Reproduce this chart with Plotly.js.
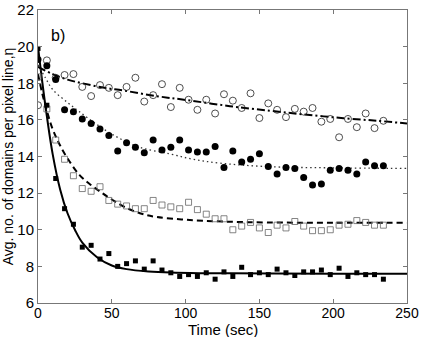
<!DOCTYPE html>
<html>
<head>
<meta charset="utf-8">
<script src="https://cdn.plot.ly/plotly-3.0.1.min.js"></script>
<style>
  html, body { margin: 0; padding: 0; background: #fff; }
  #chart { width: 422px; height: 337px; }
</style>
</head>
<body>
<div id="chart"></div>
<script>
// sample times (sec), one point every 6 s
let times = [0, 6, 12, 18, 24, 30, 36, 42, 48, 54, 60, 66, 72, 78, 84, 90, 96, 102, 108, 114,
    120, 126, 132, 138, 144, 150, 156, 162, 168, 174, 180, 186, 192, 198, 204, 210, 216, 222, 228, 234];

// measured points
let filledSquares = [19.9, 16.8, 12.8, 11.15, 10.3, 9.05, 9.15, 8.4, 8.7, 8.0, 8.15, 8.3, 7.85, 8.3, 7.8, 7.65, 7.45, 7.55, 7.45, 7.65,
    7.3, 7.7, 7.45, 7.95, 7.55, 7.65, 7.55, 7.85, 7.65, 7.5, 7.7, 7.7, 7.8, 7.55, 7.9, 7.45, 7.65, 7.55, 7.55, 7.3];
let openSquares = [18.35, 16.6, 14.9, 13.85, 12.95, 12.25, 12.1, 12.35, 11.6, 11.4, 11.3, 11.15, 11.15, 11.6, 11.35, 11.25, 11.15, 11.5, 11.1, 10.85,
    10.6, 10.6, 10.0, 10.2, 10.4, 10.1, 9.85, 10.25, 10.1, 10.45, 10.2, 9.95, 9.95, 10.0, 10.25, 10.3, 10.5, 10.4, 10.25, 10.25];
let filledCircles = [19.3, 18.95, 18.2, 16.55, 16.45, 16.05, 15.8, 15.5, 15.15, 14.3, 14.75, 14.5, 14.2, 14.9, 14.35, 14.5, 14.9, 14.35, 14.25, 14.25,
    14.55, 13.4, 14.3, 13.7, 13.85, 14.15, 13.45, 13.05, 13.4, 13.35, 12.85, 12.45, 12.5, 13.25, 13.35, 13.25, 13.05, 13.7, 13.5, 13.5];
let openCircles = [16.8, 19.25, 18.3, 18.45, 18.5, 17.8, 17.3, 17.9, 17.75, 17.35, 17.8, 18.3, 17.0, 17.35, 17.95, 16.7, 17.75, 17.1, 16.55, 17.1,
    16.35, 17.4, 17.05, 16.65, 17.45, 16.1, 16.9, 16.55, 16.15, 16.6, 16.45, 16.65, 15.9, 16.05, 15.05, 16.05, 15.6, 16.35, 15.55, 15.95];

// fitted curves
let solidT = [0, 3, 6, 10, 15, 20, 25, 30, 40, 50, 60, 75, 90, 110, 130, 160, 200, 250];
let solidV = [20.0, 18.0, 16.2, 14.1, 12.2, 10.9, 10.0, 9.3, 8.5, 8.05, 7.85, 7.72, 7.66, 7.63, 7.62, 7.61, 7.6, 7.6];
let dashT = [0, 3, 6, 9, 12, 15, 20, 28, 35, 42, 50, 58, 69, 80, 100, 125, 155, 200, 250];
let dashV = [18.5, 17.4, 16.5, 15.7, 15.1, 14.6, 13.9, 13.0, 12.5, 12.09, 11.65, 11.27, 10.9, 10.7, 10.55, 10.45, 10.4, 10.38, 10.38];
let dotT = [0, 5, 10, 20, 28, 42, 55, 69, 89, 105, 123, 155, 200, 250];
let dotV = [19.0, 18.3, 17.65, 16.95, 16.45, 15.63, 15.0, 14.5, 14.15, 13.85, 13.64, 13.45, 13.38, 13.35];
let dashDotT = [0, 10, 20, 30, 45, 58, 80, 100, 130, 157, 180, 207, 230, 250];
let dashDotV = [18.9, 18.5, 18.2, 18.0, 17.75, 17.6, 17.3, 17.09, 16.75, 16.5, 16.3, 16.09, 15.95, 15.8];

let xTicks = [0, 50, 100, 150, 200, 250];
let yTicks = [6, 8, 10, 12, 14, 16, 18, 20, 22];

let data = [
    { x: solidT, y: solidV, mode: 'lines', line: { color: '#000', width: 2, shape: 'spline' } },
    { x: dashT, y: dashV, mode: 'lines', line: { color: '#000', width: 2, dash: '6px,4px', shape: 'spline' } },
    { x: dotT, y: dotV, mode: 'lines', line: { color: '#333', width: 1.3, dash: '1.5px,3px', shape: 'spline' } },
    { x: dashDotT, y: dashDotV, mode: 'lines', line: { color: '#000', width: 2, dash: '8px,3px,2px,3px', shape: 'spline' } },
    {
        x: times, y: openCircles, mode: 'markers', type: 'scatter',
        marker: { symbol: 'circle-open', size: 7, color: '#222', line: { width: 0.8 } }
    },
    {
        x: times, y: openSquares, mode: 'markers', type: 'scatter',
        marker: { symbol: 'square-open', size: 6, color: '#666', line: { width: 0.8 } }
    },
    {
        x: times, y: filledCircles, mode: 'markers', type: 'scatter',
        marker: { symbol: 'circle', size: 7, color: '#000' }
    },
    {
        x: times, y: filledSquares, mode: 'markers', type: 'scatter',
        marker: { symbol: 'square', size: 5, color: '#000' }
    }
];

let fam = 'Liberation Sans, Arial, sans-serif';

let layout = {
    width: 422,
    height: 337,
    margin: { l: 38, r: 15, t: 10, b: 34 },
    showlegend: false,
    paper_bgcolor: '#fff',
    plot_bgcolor: '#fff',
    xaxis: {
        range: [0, 250],
        tickvals: xTicks,
        ticks: 'inside',
        ticklen: 4,
        tickcolor: '#777',
        ticklabelstandoff: -3,
        showline: true,
        linecolor: '#777',
        linewidth: 1,
        mirror: 'ticks',
        showgrid: false,
        zeroline: false,
        tickfont: { family: fam, size: 14, color: '#000' }
    },
    yaxis: {
        range: [6, 22],
        tickvals: yTicks,
        ticks: 'inside',
        ticklen: 4,
        tickcolor: '#777',
        showline: true,
        linecolor: '#777',
        linewidth: 1,
        mirror: 'ticks',
        showgrid: false,
        zeroline: false,
        tickfont: { family: fam, size: 15, color: '#000' },
        title: { text: 'Avg. no. of domains per pixel line,\u03b7', font: { family: fam, size: 14, color: '#000' } }
    },
    annotations: [
        {
            text: 'b)', xref: 'paper', yref: 'paper', x: 0.03, y: 0.95,
            xanchor: 'left', yanchor: 'top', showarrow: false,
            font: { family: fam, size: 16, color: '#000' }
        },
        {
            text: 'Time (sec)', xref: 'paper', yref: 'paper', x: 0.5, y: 0, yshift: -26,
            xanchor: 'center', yanchor: 'middle', showarrow: false,
            font: { family: fam, size: 15, color: '#000' }
        }
    ]
};

Plotly.newPlot('chart', data, layout, { displayModeBar: false, staticPlot: true });
</script>
</body>
</html>
